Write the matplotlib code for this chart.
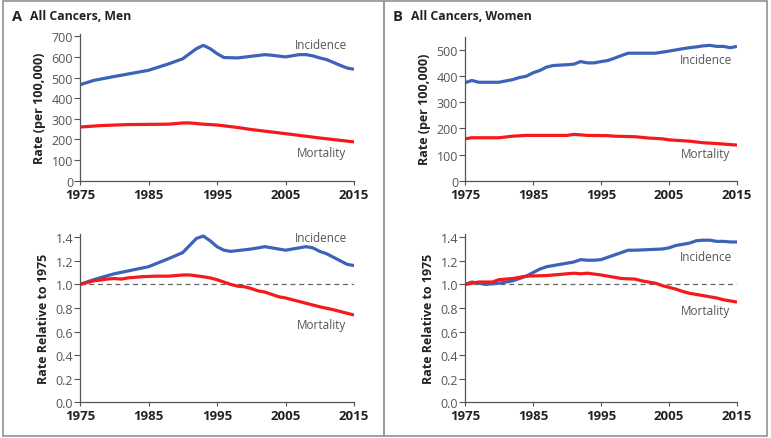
import matplotlib.pyplot as plt
from matplotlib.patches import Rectangle

# men, rate per 100,000
men_inc_years = [1975, 1977, 1980, 1985, 1988, 1990, 1992, 1993, 1994, 1995, 1996, 1998, 2000,
                 2002, 2003, 2005, 2007, 2008, 2009, 2010, 2011, 2013, 2014, 2015]
men_inc = [465, 486, 505, 535, 567, 591, 640, 656, 640, 616, 597, 595, 603,
           611, 608, 600, 611, 611, 605, 595, 587, 559, 546, 540]
men_mort_years = [1975, 1978, 1982, 1988, 1990, 1991, 1993, 1995, 1998, 2000, 2005, 2010, 2015]
men_mort = [260, 267, 272, 274, 280, 280, 274, 270, 258, 248, 228, 207, 188]

# women, rate per 100,000
women_inc_years = [1975, 1976, 1977, 1980, 1982, 1983, 1984, 1985, 1986, 1987, 1988, 1990, 1991,
                   1992, 1993, 1994, 1995, 1996, 1997, 1998, 1999, 2000, 2003, 2005, 2007, 2008,
                   2009, 2010, 2011, 2012, 2013, 2014, 2015]
women_inc = [374, 383, 376, 376, 386, 394, 399, 412, 421, 434, 440, 443, 445,
             455, 450, 450, 455, 459, 468, 478, 487, 487, 487, 495, 504, 508,
             511, 515, 517, 513, 513, 508, 513]
women_mort_years = [1975, 1976, 1980, 1982, 1984, 1990, 1991, 1993, 1996, 1997, 2000, 2002, 2004,
                    2005, 2008, 2010, 2012, 2015]
women_mort = [160, 164, 164, 170, 173, 173, 177, 173, 172, 170, 168, 163, 160,
              156, 151, 145, 142, 136]

# men, relative to 1975
men_rel_inc_years = [1975, 1977, 1980, 1985, 1988, 1990, 1992, 1993, 1994, 1995, 1996, 1997, 2000,
                     2001, 2002, 2003, 2005, 2006, 2008, 2009, 2010, 2011, 2013, 2014, 2015]
men_rel_inc = [1.00, 1.04, 1.09, 1.15, 1.22, 1.27, 1.39, 1.41, 1.37, 1.32, 1.29, 1.28, 1.30,
               1.31, 1.32, 1.31, 1.29, 1.30, 1.32, 1.31, 1.28, 1.26, 1.20, 1.17, 1.16]
men_rel_mort_years = [1975, 1977, 1979, 1980, 1981, 1982, 1984, 1986, 1988, 1990, 1991, 1993,
                      1994, 1995, 1996, 1997, 1998, 1999, 2000, 2001, 2002, 2003, 2004, 2005,
                      2006, 2008, 2010, 2012, 2014, 2015]
men_rel_mort = [1.00, 1.03, 1.045, 1.05, 1.045, 1.055, 1.065, 1.07, 1.07, 1.08, 1.08, 1.065,
                1.055, 1.04, 1.02, 1.00, 0.985, 0.98, 0.965, 0.945, 0.935, 0.915, 0.895, 0.885,
                0.87, 0.84, 0.81, 0.785, 0.755, 0.74]

# women, relative to 1975
women_rel_inc_years = [1975, 1976, 1977, 1978, 1980, 1981, 1982, 1983, 1984, 1985, 1986, 1987,
                       1988, 1990, 1991, 1992, 1993, 1994, 1995, 1996, 1997, 1998, 1999, 2000,
                       2002, 2004, 2005, 2006, 2007, 2008, 2009, 2010, 2011, 2012, 2013, 2014, 2015]
women_rel_inc = [1.00, 1.02, 1.01, 1.00, 1.01, 1.02, 1.03, 1.05, 1.07, 1.10, 1.13, 1.15,
                 1.16, 1.18, 1.19, 1.21, 1.205, 1.205, 1.21, 1.23, 1.25, 1.27, 1.29, 1.29,
                 1.295, 1.30, 1.31, 1.33, 1.34, 1.35, 1.37, 1.375, 1.375, 1.365, 1.365, 1.36, 1.36]
women_rel_mort_years = [1975, 1977, 1979, 1980, 1982, 1984, 1987, 1988, 1990, 1991, 1992, 1993,
                        1995, 1997, 1998, 2000, 2001, 2003, 2004, 2005, 2006, 2007, 2008, 2010,
                        2012, 2013, 2015]
women_rel_mort = [1.00, 1.02, 1.02, 1.04, 1.05, 1.07, 1.075, 1.08, 1.09, 1.095, 1.09, 1.095,
                  1.08, 1.06, 1.05, 1.045, 1.03, 1.01, 0.99, 0.975, 0.96, 0.94, 0.925, 0.905,
                  0.885, 0.87, 0.85]

blue = "#3d63b8"
red = "#f5191c"
gray_txt = "#555555"

plt.rcParams['font.family'] = ['Open Sans', 'DejaVu Sans']

fig = plt.figure(figsize=(7.71, 4.39), dpi=100)

# panel frames
fig.patches.append(Rectangle((3/771, 2/439), (384-3)/771, 435/439, transform=fig.transFigure,
                             fill=False, edgecolor="#9a9a9a", linewidth=1.3))
fig.patches.append(Rectangle((384/771, 2/439), (767-384)/771, 435/439, transform=fig.transFigure,
                             fill=False, edgecolor="#9a9a9a", linewidth=1.3))


def style_axis(ax, ylim, yticks, yfmt, ylabel):
    ax.set_xlim(1975, 2015)
    ax.set_ylim(*ylim)
    ax.set_xticks([1975, 1985, 1995, 2005, 2015])
    ax.set_yticks(yticks)
    ax.set_yticklabels([yfmt.format(v) for v in yticks])
    for s in ["top", "right"]:
        ax.spines[s].set_visible(False)
    for s in ["left", "bottom"]:
        ax.spines[s].set_color("#555555")
        ax.spines[s].set_linewidth(0.9)
    ax.tick_params(axis="y", direction="out", length=4, width=0.8, color="#555555",
                   labelsize=9, labelcolor=gray_txt, pad=1)
    ax.tick_params(axis="x", direction="out", length=3, width=0.8, color="#555555",
                   labelsize=9.5, labelcolor="#222222", pad=2)
    for t in ax.get_xticklabels():
        t.set_fontweight("bold")
    ax.set_ylabel(ylabel, fontsize=9, fontweight="bold", color="#222222", labelpad=4)
    ax.patch.set_alpha(0)


lw = 2.3
# top left
ax1 = fig.add_axes([80/771, (439-181.7)/439, 274/771, 146.5/439])
ax1.plot(men_inc_years, men_inc, color=blue, lw=lw, solid_capstyle="butt")
ax1.plot(men_mort_years, men_mort, color=red, lw=lw, solid_capstyle="butt")
style_axis(ax1, (0, 710), range(0, 701, 100), "{:d}", "Rate (per 100,000)")
ax1.text(2010.2, 661, "Incidence", ha="center", va="center", fontsize=8.5, color=gray_txt)
ax1.text(2010.2, 135, "Mortality", ha="center", va="center", fontsize=8.5, color=gray_txt)

# top right
ax2 = fig.add_axes([465/771, (439-181.7)/439, 272/771, 144/439])
ax2.plot(women_inc_years, women_inc, color=blue, lw=lw, solid_capstyle="butt")
ax2.plot(women_mort_years, women_mort, color=red, lw=lw, solid_capstyle="butt")
style_axis(ax2, (0, 550), range(0, 501, 100), "{:d}", "Rate (per 100,000)")
ax2.text(2010.4, 462, "Incidence", ha="center", va="center", fontsize=8.5, color=gray_txt)
ax2.text(2010.4, 102, "Mortality", ha="center", va="center", fontsize=8.5, color=gray_txt)

# bottom left
rel_ticks = [0.0, 0.2, 0.4, 0.6, 0.8, 1.0, 1.2, 1.4]
ax3 = fig.add_axes([80/771, (439-403.3)/439, 274/771, 168.6/439])
ax3.axhline(1.0, color="#666666", lw=0.9, ls=(0, (4, 3)))
ax3.plot(men_rel_inc_years, men_rel_inc, color=blue, lw=lw, solid_capstyle="butt")
ax3.plot(men_rel_mort_years, men_rel_mort, color=red, lw=lw, solid_capstyle="butt")
style_axis(ax3, (0, 1.43), rel_ticks, "{:.1f}", "Rate Relative to 1975")
ax3.text(2010.2, 1.40, "Incidence", ha="center", va="center", fontsize=8.5, color=gray_txt)
ax3.text(2010.2, 0.66, "Mortality", ha="center", va="center", fontsize=8.5, color=gray_txt)

# bottom right
ax4 = fig.add_axes([465/771, (439-403.3)/439, 272/771, 168.6/439])
ax4.axhline(1.0, color="#666666", lw=0.9, ls=(0, (4, 3)))
ax4.plot(women_rel_inc_years, women_rel_inc, color=blue, lw=lw, solid_capstyle="butt")
ax4.plot(women_rel_mort_years, women_rel_mort, color=red, lw=lw, solid_capstyle="butt")
style_axis(ax4, (0, 1.43), rel_ticks, "{:.1f}", "Rate Relative to 1975")
ax4.text(2010.4, 1.24, "Incidence", ha="center", va="center", fontsize=8.5, color=gray_txt)
ax4.text(2010.4, 0.78, "Mortality", ha="center", va="center", fontsize=8.5, color=gray_txt)

# panel titles
fig.text(12/771, 1 - 17/439, "A", fontsize=10.5, fontweight="bold", color="#222222", va="center")
fig.text(30/771, 1 - 17/439, "All Cancers, Men", fontsize=8.8, fontweight="bold",
         color="#222222", va="center")
fig.text(393/771, 1 - 17/439, "B", fontsize=10.5, fontweight="bold", color="#222222", va="center")
fig.text(411/771, 1 - 17/439, "All Cancers, Women", fontsize=8.8, fontweight="bold",
         color="#222222", va="center")

fig.savefig("out.png", dpi=100)
